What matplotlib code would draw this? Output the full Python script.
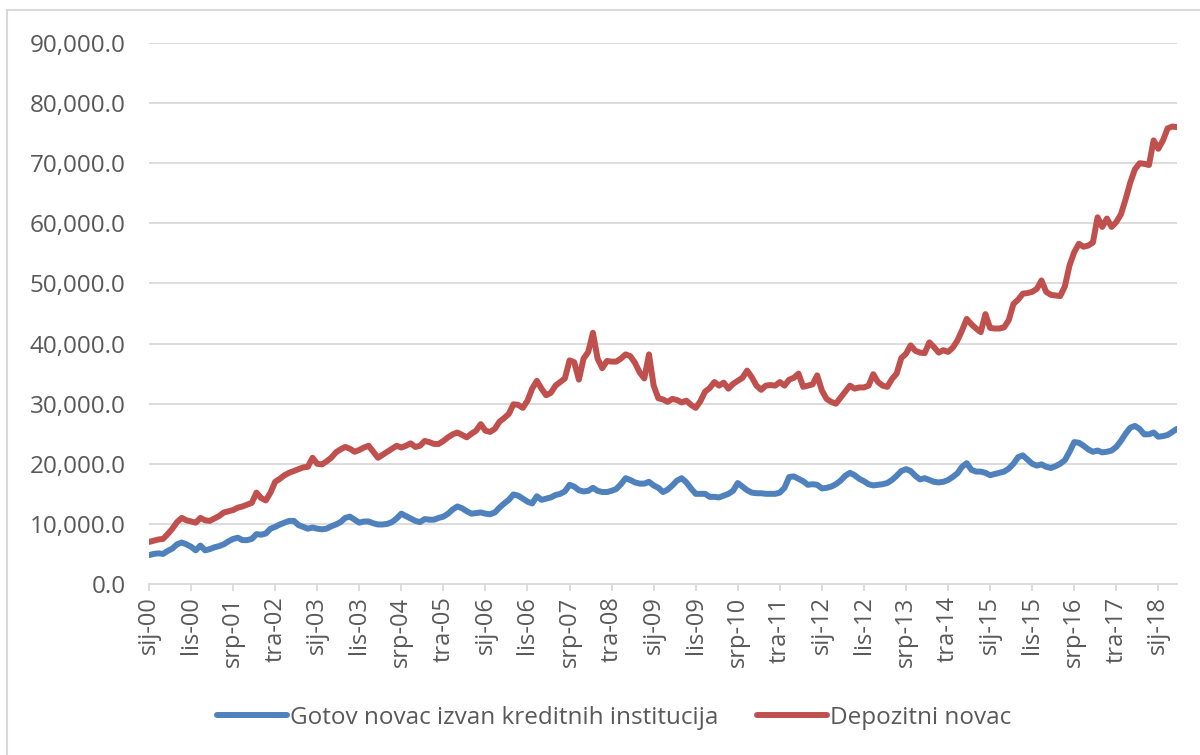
import matplotlib
matplotlib.use("Agg")
import matplotlib.pyplot as plt
from matplotlib.patches import Rectangle
from matplotlib.ticker import FuncFormatter, MultipleLocator

# mjesečni podaci, sij-00 .. svi-18 (mil. kn)
gotov_novac = [
    4800, 5000, 5100, 5000, 5500, 5900, 6600, 6900, 6600, 6200, 5600, 6400,
    5600, 5800, 6100, 6300, 6600, 7100, 7500, 7700, 7300, 7300, 7500, 8300,
    8200, 8400, 9200, 9500, 9900, 10200, 10500, 10500, 9800, 9500, 9200, 9400,
    9200, 9100, 9200, 9600, 9900, 10300, 11000, 11200, 10700, 10200, 10400, 10400,
    10100, 9900, 9900, 10000, 10300, 10900, 11700, 11300, 10900, 10500, 10300, 10800,
    10700, 10700, 11000, 11200, 11700, 12400, 12900, 12600, 12100, 11700, 11800, 11900,
    11700, 11600, 11900, 12700, 13400, 14000, 14900, 14700, 14200, 13700, 13400, 14600,
    14000, 14200, 14400, 14800, 15000, 15400, 16500, 16200, 15600, 15400, 15500, 16000,
    15500, 15300, 15300, 15500, 15800, 16600, 17600, 17300, 16900, 16700, 16700, 17000,
    16400, 16000, 15300, 15700, 16400, 17200, 17600, 16900, 15900, 15000, 15000, 15000,
    14500, 14500, 14400, 14700, 15000, 15500, 16800, 16200, 15600, 15200, 15100, 15100,
    15000, 15000, 15000, 15200, 16000, 17800, 17900, 17500, 17100, 16500, 16600, 16500,
    15900, 16000, 16200, 16600, 17200, 18000, 18500, 18100, 17500, 17100, 16600, 16400,
    16500, 16600, 16800, 17300, 18000, 18800, 19100, 18800, 18000, 17400, 17600, 17300,
    17000, 16900, 17000, 17300, 17800, 18400, 19500, 20100, 19000, 18700, 18700, 18500,
    18100, 18300, 18500, 18700, 19200, 20000, 21100, 21400, 20700, 20000, 19700, 19900,
    19500, 19300, 19600, 20000, 20600, 22000, 23600, 23500, 23000, 22400, 22000, 22200,
    21900, 22000, 22200, 22800, 23800, 25000, 26000, 26300, 25800, 24900, 24900, 25200,
    24500, 24600, 24800, 25300, 25800,
]

depozitni_novac = [
    7000, 7200, 7400, 7500, 8300, 9200, 10300, 11000, 10600, 10400, 10200, 11000,
    10600, 10500, 10900, 11300, 11900, 12100, 12300, 12700, 12900, 13200, 13500, 15200,
    14300, 13900, 15200, 17000, 17500, 18100, 18500, 18800, 19100, 19400, 19500, 21000,
    20000, 19900, 20400, 21000, 21900, 22400, 22800, 22500, 22000, 22300, 22700, 23000,
    22000, 21000, 21500, 22000, 22500, 23000, 22700, 23000, 23400, 22800, 23000, 23800,
    23600, 23300, 23300, 23800, 24400, 24900, 25200, 24800, 24400, 25000, 25500, 26600,
    25500, 25300, 25800, 27000, 27600, 28300, 29900, 29800, 29300, 30500, 32500, 33800,
    32500, 31400, 31800, 33000, 33600, 34200, 37200, 36900, 34000, 37500, 38600, 41800,
    37500, 35900, 37100, 37000, 37000, 37500, 38200, 37900, 36800, 35200, 34200, 38200,
    33000, 30900, 30700, 30300, 30800, 30600, 30200, 30500, 29800, 29300, 30400, 32000,
    32600, 33600, 33000, 33500, 32500, 33300, 33800, 34300, 35500, 34400, 33000, 32300,
    33000, 33100, 33000, 33600, 33000, 34000, 34300, 35000, 32800, 33000, 33200, 34700,
    32200, 30800, 30300, 30000, 31000, 32000, 33000, 32500, 32700, 32700, 33000, 34900,
    33600, 33000, 32800, 34100, 35000, 37600, 38300, 39700, 38800, 38500, 38400, 40200,
    39400, 38500, 38900, 38600, 39300, 40500, 42200, 44100, 43200, 42500, 41900, 44900,
    42600, 42500, 42500, 42700, 43900, 46600, 47300, 48300, 48400, 48600, 49100, 50500,
    48600, 48100, 48000, 47900, 49500, 53000, 55200, 56600, 56100, 56300, 56800, 61000,
    59400, 60800, 59400, 60200, 61500, 64000, 66800, 69000, 70000, 69900, 69700, 73800,
    72400, 73800, 75800, 76100, 76000,
]

oznake = ["sij-00", "lis-00", "srp-01", "tra-02", "sij-03", "lis-03", "srp-04",
          "tra-05", "sij-06", "lis-06", "srp-07", "tra-08", "sij-09", "lis-09",
          "srp-10", "tra-11", "sij-12", "lis-12", "srp-13", "tra-14", "sij-15",
          "lis-15", "srp-16", "tra-17", "sij-18"]
korak_oznaka = 9  # svakih 9 mjeseci

naziv_gotov = "Gotov novac izvan kreditnih institucija"
naziv_depozitni = "Depozitni novac"

PLAVA = "#4F81BD"
CRVENA = "#C0504D"
SIVA_TXT = "#595959"
SIVA_GRID = "#D9D9D9"

plt.rcParams["font.family"] = ["Open Sans", "DejaVu Sans"]

W, H = 1200, 755
fig = plt.figure(figsize=(W / 100, H / 100), dpi=100)
ax = fig.add_axes([149 / W, (H - 584) / H, (1177 - 149) / W, (584 - 43) / H])

x = list(range(len(depozitni_novac)))
l1, = ax.plot(x, gotov_novac, color=PLAVA, lw=4.3, solid_capstyle="round",
              solid_joinstyle="round", label=naziv_gotov, zorder=3)
l2, = ax.plot(x, depozitni_novac, color=CRVENA, lw=4.3, solid_capstyle="round",
              solid_joinstyle="round", label=naziv_depozitni, zorder=3)

ax.set_xlim(0, len(x) - 1)
ax.set_ylim(0, 90000)
ax.yaxis.set_major_locator(MultipleLocator(10000))
ax.yaxis.set_major_formatter(FuncFormatter(lambda v, p: f"{v:,.1f}"))
ax.grid(axis="y", color=SIVA_GRID, lw=1.3, zorder=0)
ax.set_axisbelow(True)

ax.set_xticks([i * korak_oznaka for i in range(len(oznake))])
ax.set_xticklabels(oznake, rotation=90)

for s in ("top", "right", "left"):
    ax.spines[s].set_visible(False)
ax.spines["bottom"].set_color(SIVA_GRID)
ax.spines["bottom"].set_linewidth(1.3)

ax.tick_params(axis="y", length=0, pad=17, labelsize=17.5, labelcolor=SIVA_TXT)
ax.tick_params(axis="x", length=5, width=1.3, color=SIVA_GRID, pad=4,
               labelsize=17, labelcolor=SIVA_TXT)

fig.legend(handles=[l1, l2], loc="center", bbox_to_anchor=(614 / W, 1 - 718 / H),
           ncol=2, frameon=False, fontsize=17.5, labelcolor=SIVA_TXT,
           handlelength=2.9, handletextpad=0.1, columnspacing=1.6)

# okvir grafikona
fig.patches.append(Rectangle((7 / W, -0.05), 1.2, 1 - 10 / H + 0.05, fill=False,
                             edgecolor=SIVA_GRID, lw=1.5, transform=fig.transFigure))

fig.savefig("out.png", dpi=100)
